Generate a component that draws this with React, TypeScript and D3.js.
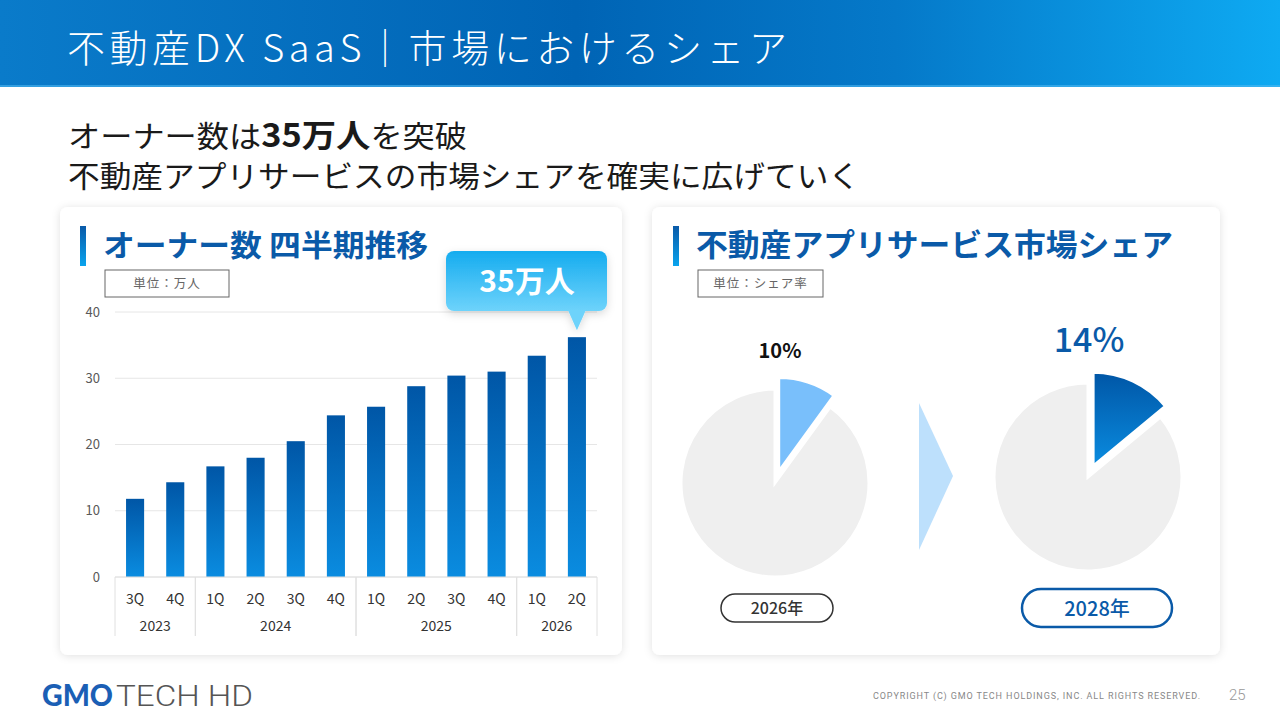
import React from 'react';
import * as d3 from 'd3';

// Quarterly owner count (万人)
const quarters = ['3Q', '4Q', '1Q', '2Q', '3Q', '4Q', '1Q', '2Q', '3Q', '4Q', '1Q', '2Q'];
const quarterYears = ['2023', '2023', '2024', '2024', '2024', '2024', '2025', '2025', '2025', '2025', '2026', '2026'];
const owners = [11.8, 14.3, 16.7, 18.0, 20.5, 24.4, 25.7, 28.8, 30.4, 31.0, 33.4, 36.2];
const yTicks = [0, 10, 20, 30, 40];

// Market share
const shareYears = ['2026年', '2028年'];
const shares = [10, 14];
const shareLabels = ['10%', '14%'];

const JP = '"Noto Sans CJK JP", "Noto Sans", sans-serif';
const BLUE = '#0a5aa8';

const Card: React.FC<{ x: number; y: number; w: number; h: number }> = ({ x, y, w, h }) => (
  <rect x={x} y={y} width={w} height={h} rx={8} fill="#fff" filter="url(#cardShadow)" />
);

const CardTitle: React.FC<{
  x: number;
  y: number;
  text: string;
  size: number;
  len: number;
  unit: string;
  unitW: number;
}> = ({ x, y, text, size, len, unit, unitW }) => (
  <g>
    <rect x={x} y={y - 30} width={6} height={40} fill="url(#accentGrad)" />
    <text
      x={x + 23}
      y={y}
      fontFamily={JP}
      fontWeight={700}
      fontSize={size}
      fill={BLUE}
      textLength={len}
      lengthAdjust="spacingAndGlyphs"
    >
      {text}
    </text>
    <rect x={x + 25} y={y + 14} width={unitW} height={27} fill="#fff" stroke="#666" strokeWidth={1} />
    <text
      x={x + 25 + unitW / 2}
      y={y + 32}
      textAnchor="middle"
      fontFamily={JP}
      fontSize={12.5}
      letterSpacing={1}
      fill="#666"
    >
      {unit}
    </text>
  </g>
);

const BarChart: React.FC = () => {
  const x0 = 115;
  const x1 = 597;
  const yBase = 577;
  const yTop = 312;
  const idx = owners.map((_, i) => String(i));
  const x = d3.scaleBand().domain(idx).range([x0, x1]).paddingInner(0.55).paddingOuter(0.275);
  const xStep = d3.scaleBand().domain(idx).range([x0, x1]);
  const y = d3.scaleLinear().domain([0, 40]).range([yBase, yTop]);

  // group consecutive years
  const groups: { year: string; start: number; end: number }[] = [];
  quarterYears.forEach((yr, i) => {
    const g = groups[groups.length - 1];
    if (g && g.year === yr) g.end = i;
    else groups.push({ year: yr, start: i, end: i });
  });

  const last = owners.length - 1;
  const lastX = (x(String(last)) || 0) + x.bandwidth() / 2;

  return (
    <g>
      {yTicks.map((t) => (
        <g key={t}>
          <line x1={x0} x2={x1} y1={y(t)} y2={y(t)} stroke="#e6e6e6" strokeWidth={1} />
          <text x={100} y={y(t) + 4.5} textAnchor="end" fontFamily={JP} fontSize={13} fill="#595959">
            {t}
          </text>
        </g>
      ))}
      {owners.map((v, i) => (
        <rect
          key={i}
          x={x(String(i))}
          y={y(v)}
          width={x.bandwidth()}
          height={yBase - y(v)}
          fill="url(#barGrad)"
        />
      ))}
      {/* category table */}
      <line x1={x0} x2={x1} y1={yBase} y2={yBase} stroke="#e0e0e0" />
      {groups.map((g) => {
        const gx0 = xStep(String(g.start)) || 0;
        const gx1 = (xStep(String(g.end)) || 0) + xStep.bandwidth();
        return (
          <g key={g.year}>
            <line x1={gx0} x2={gx0} y1={yBase} y2={636} stroke="#e0e0e0" />
            <line x1={gx1} x2={gx1} y1={yBase} y2={636} stroke="#e0e0e0" />
            <text x={(gx0 + gx1) / 2} y={631} textAnchor="middle" fontFamily={JP} fontSize={14} fill="#333">
              {g.year}
            </text>
          </g>
        );
      })}
      {quarters.map((q, i) => (
        <text
          key={i}
          x={(xStep(String(i)) || 0) + xStep.bandwidth() / 2}
          y={604}
          textAnchor="middle"
          fontFamily={JP}
          fontSize={14}
          fill="#333"
        >
          {q}
        </text>
      ))}
      {/* callout */}
      <g filter="url(#badgeShadow)">
        <rect x={446} y={251} width={161} height={60} rx={8} fill="url(#badgeGrad)" />
        <path d={`M${lastX - 9},310 L${lastX + 9},310 L${lastX},${y(owners[last]) - 7} Z`} fill="#6ed3fb" />
      </g>
      <text x={527} y={292} textAnchor="middle" fontFamily={JP} fontWeight={700} fontSize={30} fill="#fff">
        35万人
      </text>
    </g>
  );
};

const ShareCharts: React.FC = () => {
  const centers = [
    { cx: 775, cy: 483 },
    { cx: 1088, cy: 477 },
  ];
  const r = 94;
  const pie = d3
    .pie<number>()
    .sort(null)
    .value((d) => d);
  const arc = d3.arc<d3.PieArcDatum<number>>().innerRadius(0).outerRadius(r);
  const fills = ['#79bffb', 'url(#sliceGrad)'];

  return (
    <g>
      {shares.map((s, i) => {
        const arcs = pie([s, 100 - s]);
        const c = centers[i];
        const a = arcs[0];
        const mid = (a.startAngle + a.endAngle) / 2;
        const off = 12;
        const dx = Math.sin(mid) * off;
        const dy = -Math.cos(mid) * off;
        return (
          <g key={i} transform={`translate(${c.cx},${c.cy})`}>
            <path d={arc(arcs[1]) || ''} fill="#efefef" stroke="#fff" strokeWidth={3} />
            <path d={arc(a) || ''} transform={`translate(${dx},${dy})`} fill={fills[i]} stroke="#fff" strokeWidth={3} />
          </g>
        );
      })}
      <text x={780} y={358} textAnchor="middle" fontFamily={JP} fontWeight={700} fontSize={20} fill="#111">
        {shareLabels[0]}
      </text>
      <text x={1089} y={352} textAnchor="middle" fontFamily={JP} fontWeight={500} fontSize={34} fill={BLUE}>
        {shareLabels[1]}
      </text>
      {/* arrow */}
      <path d="M919,403 L953,476 L919,550 Z" fill="#bde0fc" />
      {/* year pills */}
      <rect x={721} y={594} width={112} height={28} rx={14} fill="#fff" stroke="#333" strokeWidth={1.5} />
      <text x={777} y={614} textAnchor="middle" fontFamily={JP} fontWeight={500} fontSize={16} fill="#333">
        {shareYears[0]}
      </text>
      <rect x={1022} y={589} width={150} height={38} rx={19} fill="#fff" stroke={BLUE} strokeWidth={2.5} />
      <text x={1097} y={615.5} textAnchor="middle" fontFamily={JP} fontWeight={500} fontSize={20} fill={BLUE}>
        {shareYears[1]}
      </text>
    </g>
  );
};

export default function App() {
  return (
    <svg
      width={1280}
      height={720}
      viewBox="0 0 1280 720"
      style={{ position: 'absolute', left: 0, top: 0, display: 'block', background: '#fff' }}
    >
      <defs>
        <linearGradient id="headerGrad" x1="0" x2="1" y1="0" y2="0">
          <stop offset="0" stopColor="#0a7bca" />
          <stop offset="0.45" stopColor="#0064b5" />
          <stop offset="0.7" stopColor="#0579c9" />
          <stop offset="1" stopColor="#0eaaf2" />
        </linearGradient>
        <linearGradient id="barGrad" x1="0" x2="0" y1="0" y2="1">
          <stop offset="0" stopColor="#0056a6" />
          <stop offset="1" stopColor="#0a8ce0" />
        </linearGradient>
        <linearGradient id="sliceGrad" x1="0" x2="0" y1="0" y2="1">
          <stop offset="0" stopColor="#0056a6" />
          <stop offset="1" stopColor="#0a8ce0" />
        </linearGradient>
        <linearGradient id="accentGrad" x1="0" x2="0" y1="0" y2="1">
          <stop offset="0" stopColor="#0a5aa8" />
          <stop offset="1" stopColor="#0aa4ee" />
        </linearGradient>
        <linearGradient id="badgeGrad" x1="0" x2="0" y1="0" y2="1">
          <stop offset="0" stopColor="#15acef" />
          <stop offset="1" stopColor="#6ed3fb" />
        </linearGradient>
        <filter id="cardShadow" x="-10%" y="-10%" width="120%" height="120%">
          <feDropShadow dx={0} dy={1} stdDeviation={4} floodColor="#000" floodOpacity={0.12} />
        </filter>
        <filter id="badgeShadow" x="-20%" y="-20%" width="140%" height="160%">
          <feDropShadow dx={0} dy={3} stdDeviation={4} floodColor="#000" floodOpacity={0.15} />
        </filter>
      </defs>

      {/* header */}
      <rect x={0} y={0} width={1280} height={87} fill="url(#headerGrad)" />
      <rect x={0} y={85} width={1280} height={2} fill="#4fb8f0" opacity={0.6} />
      <text
        x={67}
        y={62}
        fontFamily={JP}
        fontWeight={300}
        fontSize={38}
        fill="#fff"
        textLength={720}
        lengthAdjust="spacing"
      >
        不動産DX SaaS｜市場におけるシェア
      </text>

      {/* lead */}
      <text x={68} y={147} fontFamily={JP} fontSize={30} fill="#1a1a1a" textLength={399} lengthAdjust="spacingAndGlyphs">
        オーナー数は
        <tspan fontWeight={700} fontSize={32}>
          35万人
        </tspan>
        を突破
      </text>
      <text x={68} y={187} fontFamily={JP} fontSize={30} fill="#1a1a1a" textLength={792} lengthAdjust="spacingAndGlyphs">
        不動産アプリサービスの市場シェアを確実に広げていく
      </text>

      <Card x={60} y={207} w={562} h={448} />
      <Card x={652} y={207} w={568} h={448} />

      <CardTitle x={80} y={256} text="オーナー数 四半期推移" size={30} len={325} unit="単位：万人" unitW={124} />
      <CardTitle
        x={673}
        y={256}
        text="不動産アプリサービス市場シェア"
        size={31}
        len={477}
        unit="単位：シェア率"
        unitW={125}
      />

      <BarChart />
      <ShareCharts />

      {/* footer */}
      <text
        x={42}
        y={706}
        fontFamily="Lato, sans-serif"
        fontWeight={900}
        fontSize={30}
        fill="#1b5fb5"
        textLength={71}
        lengthAdjust="spacingAndGlyphs"
      >
        GMO
      </text>
      <text
        x={116}
        y={706}
        fontFamily="Roboto, sans-serif"
        fontWeight={300}
        fontSize={30}
        fill="#555"
        textLength={137}
        lengthAdjust="spacingAndGlyphs"
      >
        TECH HD
      </text>
      <text x={873} y={699} fontFamily="Roboto, sans-serif" fontSize={9} fill="#888" textLength={327} lengthAdjust="spacing">
        COPYRIGHT (C) GMO TECH HOLDINGS, INC. ALL RIGHTS RESERVED.
      </text>
      <text x={1229} y={700} fontFamily="Roboto, sans-serif" fontWeight={300} fontSize={15} fill="#999">
        25
      </text>
    </svg>
  );
}
